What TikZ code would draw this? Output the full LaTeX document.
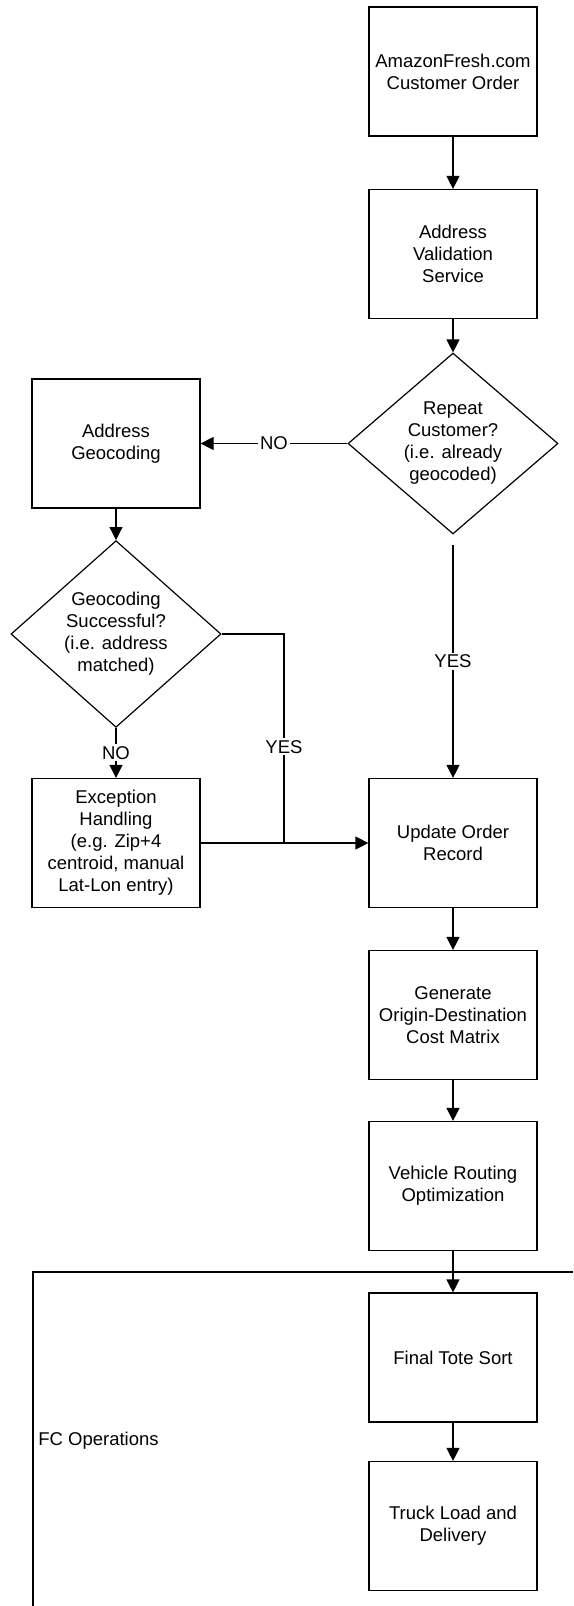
\documentclass[tikz,border=0pt]{standalone}
\usepackage{fontspec}
\setmainfont{Liberation Sans}
\usetikzlibrary{shapes.geometric,arrows.meta}
\begin{document}
\begin{tikzpicture}[x=0.5pt,y=-0.5pt,
  font=\fontsize{9.25}{11}\selectfont,
  box/.style={draw, line width=0.6pt, minimum width=84pt, minimum height=64.5pt, align=center, inner sep=1pt},
  dec/.style={draw, diamond, line width=0.6pt, minimum width=105pt, minimum height=80pt, inner sep=0pt, align=center},
  conn/.style={line width=0.6pt},
  arr/.style={conn, -{Triangle[length=6.5pt,width=6.5pt]}},
  lbl/.style={fill=white, inner sep=1pt}]
\useasboundingbox (0,0) rectangle (573,1606);

\node[box] (order) at (453,71.5) {AmazonFresh.com\\Customer Order};
\node[box] (avs) at (453,254) {Address\\Validation\\Service};
\node[dec] (repeat) at (453,443.5) {Repeat\\Customer?\\(i.e. already\\geocoded)};
\node[box] (geo) at (116,443.5) {Address\\Geocoding};
\node[dec] (gsucc) at (116,634) {Geocoding\\Successful?\\(i.e. address\\matched)};
\node[box] (exc) at (116,843) {Exception\\Handling\\(e.g. Zip+4\\centroid, manual\\Lat-Lon entry)};
\node[box] (update) at (453,843) {Update Order\\Record};
\node[box] (gen) at (453,1015) {Generate\\Origin-Destination\\Cost Matrix};
\node[box] (veh) at (453,1186) {Vehicle Routing\\Optimization};
\node[box] (tote) at (453,1357.5) {Final Tote Sort};
\node[box] (truck) at (453,1526) {Truck Load and\\Delivery};
\coordinate (join) at (284,843);

\draw[arr] (order) -- (avs);
\draw[arr] (avs) -- (repeat);
\draw[arr] (repeat.west) -- node[lbl]{NO} (geo.east);
\draw[arr, shorten <=5pt] (repeat.south) -- node[lbl, pos=0.52]{YES} (update.north);
\draw[arr] (geo) -- (gsucc);
\draw[arr] (gsucc.south) -- node[lbl]{NO} (exc.north);
\draw[conn] (gsucc.east) -| node[lbl, pos=0.77]{YES} (join);
\draw[arr] (exc.east) -- (update.west);
\draw[arr] (update) -- (gen);
\draw[arr] (gen) -- (veh);
\draw[arr] (veh) -- (tote);
\draw[arr] (tote) -- (truck);

\draw[conn] (573,1272) -- (33,1272) -- (33,1606);
\node[anchor=west, inner sep=0pt] (fclabel) at (38,1441) {FC Operations};
\end{tikzpicture}
\end{document}
